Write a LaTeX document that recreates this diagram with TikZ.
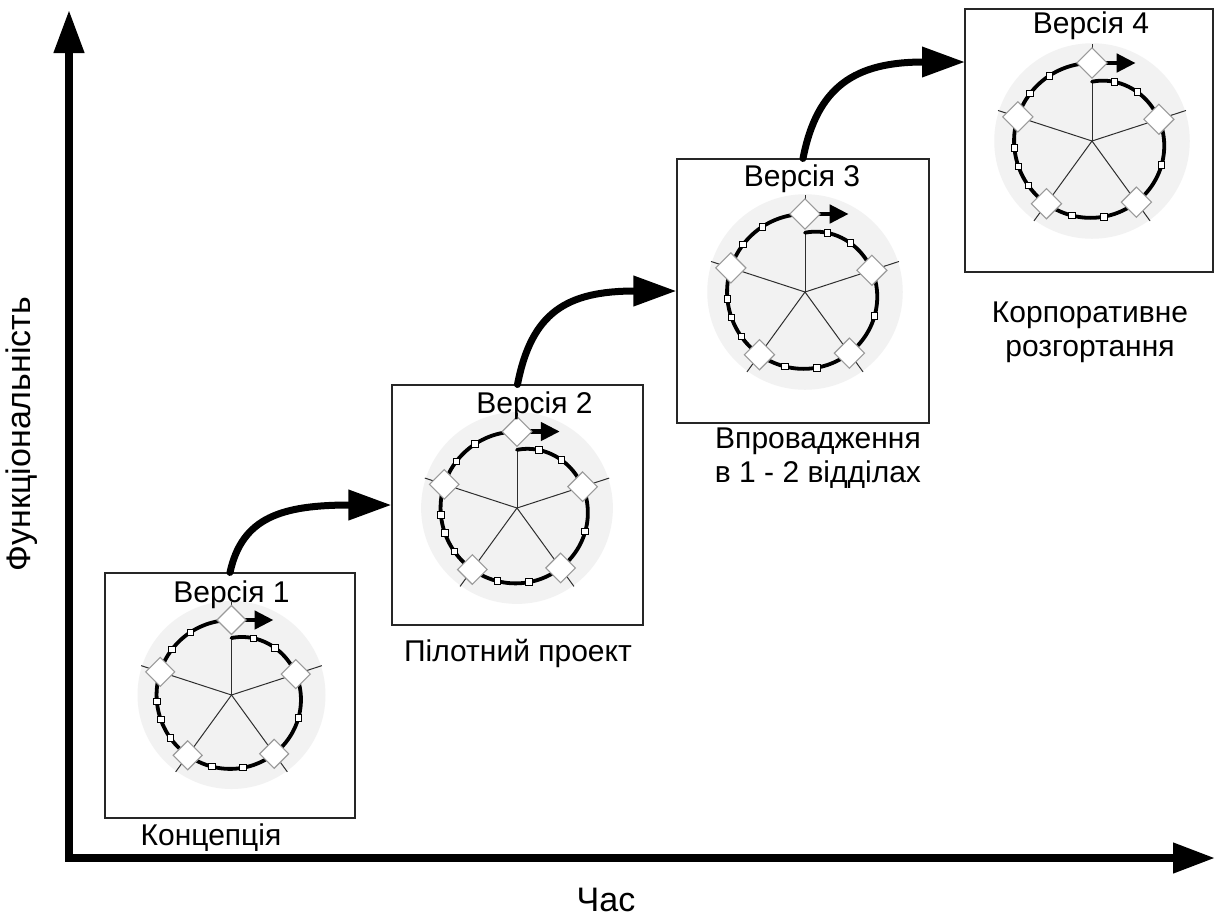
\documentclass[tikz,border=0pt]{standalone}
\usepackage{fontspec}
\setmainfont{Liberation Sans}
\usetikzlibrary{arrows.meta,calc}
\definecolor{bgc}{HTML}{F2F2F2}
\definecolor{spk}{HTML}{2E2E2E}
\definecolor{dmd}{HTML}{9A9A9A}
\tikzset{
  spoke/.style={draw=spk, line width=1pt},
  ringline/.style={line width=3.8pt, line cap=round},
  minarrow/.style={line width=4.5pt, -{Triangle[length=19pt,width=18pt]}},
  dmdst/.style={draw=dmd, fill=white, line width=1.1pt},
  sqst/.style={draw=black, fill=white, line width=0.9pt},
  box/.style={draw=black!85, line width=1.1pt, fill=white, inner sep=0pt},
  lbl/.style={font=\fontsize{30}{34}\selectfont, inner sep=0pt},
  biglbl/.style={font=\fontsize{34}{38}\selectfont, inner sep=0pt},
  bigarrow/.style={line width=7pt, line cap=round, -{Triangle[length=43pt,width=29pt]}},
  axisline/.style={line width=7.5pt, line join=miter, {Triangle[length=43pt,width=29pt]}-{Triangle[length=42pt,width=29pt]}}
}
\newcommand\cycleicon[2]{%
\begin{scope}[shift={#1}, x=#2pt, y=#2pt]
  \fill[bgc] (0,0) circle (94);
  \foreach \a in {18,162,234,306} \draw[spoke] (0,0) -- (\a:95);
  \draw[spoke] (0,0) -- (0,57);
  \draw[spoke] (0,75) -- (0,93);
  \draw[ringline] plot[domain=0:1, samples=160, smooth]
     ({(75-18*(1-\x)^4)*cos(90-360*\x)}, {(75-18*(1-\x)^4)*sin(90-360*\x)});
  \draw[minarrow] (0,75) -- (42,75);
  \foreach \t in {0.058,0.119,0.303,0.475,0.542,0.653,0.697,0.736,0.854,0.908} {
    \pgfmathsetmacro\rr{75-18*(1-\t)^4}
    \pgfmathsetmacro\aa{90-360*\t}
    \filldraw[sqst] (\aa:\rr) ++(-3.2,-3.2) rectangle ++(6.4,6.4);
  }
  \foreach \t in {0.2,0.4,0.6,0.8,1} {
    \pgfmathsetmacro\rr{75-18*(1-\t)^4}
    \pgfmathsetmacro\aa{90-360*\t}
    \filldraw[dmdst] (\aa:\rr) ++(0,14.5) -- ++(14.5,-14.5) -- ++(-14.5,-14.5) -- ++(-14.5,14.5) -- cycle;
  }
\end{scope}}

\begin{document}
\begin{tikzpicture}[x=1pt, y=-1pt]
\useasboundingbox (0,0) rectangle (1215,922);

% axes
\coordinate (O) at (69,858);
\coordinate (ytip) at (69,10);
\coordinate (xtip) at (1215,858);
\draw[axisline] (ytip) -- (O) -- (xtip);

% boxes
\node[box, minimum width=250pt, minimum height=245pt] (b1) at (230,695.5) {};
\node[box, minimum width=251pt, minimum height=240pt] (b2) at (517.5,505) {};
\node[box, minimum width=252pt, minimum height=264pt] (b3) at (803,291) {};
\node[box, minimum width=248pt, minimum height=263pt] (b4) at (1089,140.5) {};

% icons
\cycleicon{(231.5,695)}{1}
\cycleicon{(517,508)}{1.02}
\cycleicon{(805,292)}{1.04}
\cycleicon{(1092,141)}{1.04}

% version labels
\node[lbl, anchor=base] (v1) at (231.5,602) {Версія 1};
\node[lbl, anchor=base] (v2) at (534.5,413) {Версія 2};
\node[lbl, anchor=base] (v3) at (802,186) {Версія 3};
\node[lbl, anchor=base] (v4) at (1091,33) {Версія 4};

% stage labels
\node[lbl, anchor=base] (s1) at (211,845) {Концепція};
\node[lbl, anchor=base] (s2) at (518,661) {Пілотний проект};
\node[lbl, anchor=base, align=center] (s3) at (818,482) {Впровадження\\в 1 - 2 відділах};
\node[lbl, anchor=base, align=center] (s4) at (1090,356) {Корпоративне\\розгортання};

% axis labels
\node[biglbl, rotate=90] (ylab) at (22,434) {Функціональність};
\node[biglbl, anchor=base] (xlab) at (606,911) {Час};

% connectors
\coordinate (a3end) at (965,62);
\draw[bigarrow] (b1.north) .. controls +(12,-55) and +(-110,0) .. (b2.west);
\draw[bigarrow] (b2.north) .. controls +(14,-72) and +(-110,0) .. (b3.west);
\draw[bigarrow] (b3.north) .. controls +(14,-72) and +(-110,0) .. (a3end);
\end{tikzpicture}
\end{document}
